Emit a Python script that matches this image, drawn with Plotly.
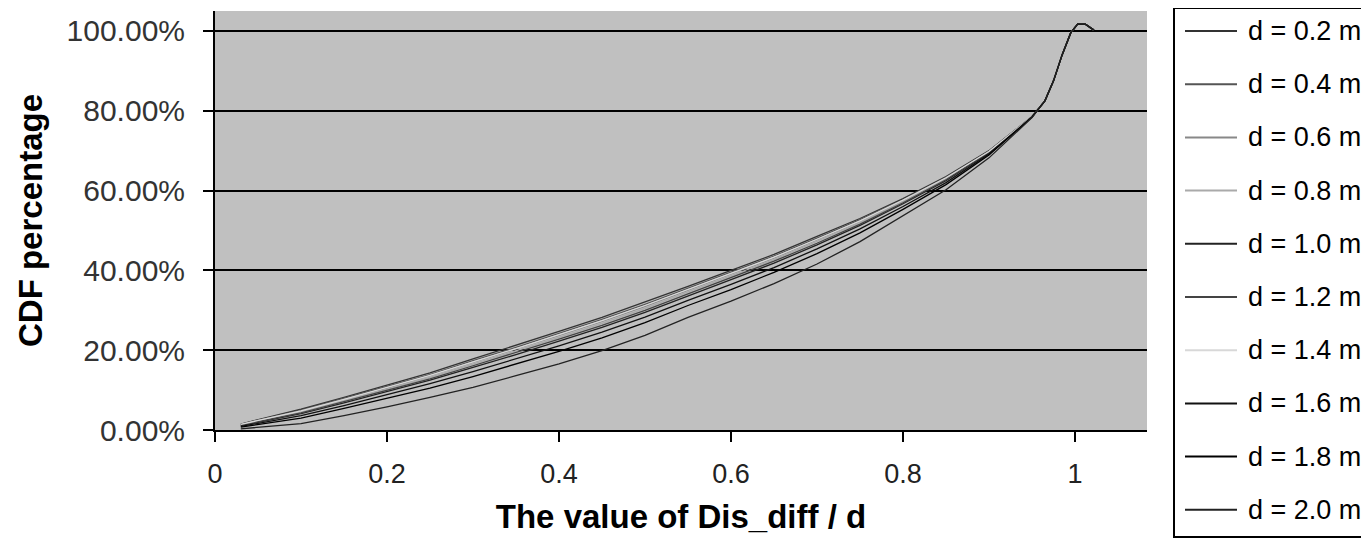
import plotly.graph_objects as go

# ---- data ----
x_vals = [0.03, 0.05, 0.1, 0.15, 0.2, 0.25, 0.3, 0.35, 0.4, 0.45, 0.5, 0.55, 0.6,
          0.65, 0.7, 0.75, 0.8, 0.85, 0.9, 0.95, 0.965, 0.975, 0.985, 0.995,
          1.003, 1.012, 1.022]

tail = [82.5, 87.5, 94.0, 99.5, 101.7, 101.7, 100.2]

cdf_d02 = [1.5, 2.6, 5.2, 8.2, 11.2, 14.3, 17.8, 21.2, 24.7, 28.2, 32.0, 36.0, 40.0,
           44.0, 48.5, 53.0, 58.0, 63.5, 70.0, 78.5] + tail
cdf_d04 = [1.4, 2.5, 5.0, 7.9, 10.9, 13.9, 17.4, 20.7, 24.2, 27.7, 31.5, 35.5, 39.5,
           43.6, 48.1, 52.7, 57.7, 63.3, 69.9, 78.5] + tail
cdf_d06 = [1.3, 2.4, 4.8, 7.6, 10.5, 13.6, 16.9, 20.3, 23.7, 27.2, 31.0, 35.1, 39.1,
           43.1, 47.7, 52.3, 57.5, 63.1, 69.8, 78.5] + tail
cdf_d08 = [1.3, 2.3, 4.6, 7.4, 10.2, 13.2, 16.5, 19.8, 23.2, 26.7, 30.5, 34.6, 38.6,
           42.7, 47.3, 52.0, 57.2, 62.9, 69.7, 78.5] + tail
cdf_d10 = [1.1, 2.0, 4.1, 6.8, 9.6, 12.5, 15.7, 18.9, 22.3, 25.7, 29.5, 33.7, 37.7,
           41.8, 46.4, 51.3, 56.7, 62.5, 69.5, 78.5] + tail
cdf_d12 = [1.2, 2.1, 4.3, 7.1, 9.9, 12.8, 16.1, 19.4, 22.8, 26.2, 30.0, 34.1, 38.2,
           42.3, 46.8, 51.6, 56.9, 62.7, 69.6, 78.5] + tail
cdf_d14 = [1.4, 2.4, 4.8, 7.7, 10.7, 13.7, 17.1, 20.4, 23.9, 27.4, 31.2, 35.2, 39.2,
           43.3, 47.8, 52.4, 57.6, 63.2, 69.8, 78.5] + tail
cdf_d16 = [0.9, 1.7, 3.6, 6.1, 8.8, 11.6, 14.6, 17.8, 21.1, 24.5, 28.3, 32.5, 36.5,
           40.7, 45.4, 50.4, 56.0, 62.0, 69.2, 78.5] + tail
cdf_d18 = [0.7, 1.4, 3.0, 5.4, 7.9, 10.5, 13.4, 16.5, 19.7, 23.1, 26.9, 31.2, 35.2,
           39.5, 44.2, 49.4, 55.3, 61.5, 68.9, 78.4] + tail
cdf_d20 = [0.3, 0.7, 1.6, 3.6, 5.8, 8.2, 10.7, 13.6, 16.6, 19.9, 23.7, 28.2, 32.3,
           36.7, 41.6, 47.2, 53.6, 60.2, 68.2, 78.3] + tail

series_names = ["d = 0.2 m", "d = 0.4 m", "d = 0.6 m", "d = 0.8 m", "d = 1.0 m",
                "d = 1.2 m", "d = 1.4 m", "d = 1.6 m", "d = 1.8 m", "d = 2.0 m"]
series_values = [cdf_d02, cdf_d04, cdf_d06, cdf_d08, cdf_d10,
                 cdf_d12, cdf_d14, cdf_d16, cdf_d18, cdf_d20]
series_colors = ["#333333", "#555555", "#888888", "#aaaaaa", "#222222",
                 "#444444", "#d8d8d8", "#111111", "#000000", "#222222"]

x_ticks = [0, 0.2, 0.4, 0.6, 0.8, 1]
x_tick_text = ["0", "0.2", "0.4", "0.6", "0.8", "1"]
y_ticks = [0, 0.2, 0.4, 0.6, 0.8, 1.0]

FONT = "Liberation Sans, Arial, sans-serif"

# page offset (browser body margin) and plot-area geometry in screen pixels
OFF = 8
W, H = 1369, 555
L = 215 - OFF
T = 11 - OFF
R = W - (1147 - OFF)
B = H - (430 - OFF)
PW, PH = W - L - R, H - T - B


def px_x(px):
    return (px - OFF - L) / PW


def px_y(py):
    return (H - B - (py - OFF)) / PH


fig = go.Figure()
for name, vals, col in zip(series_names, series_values, series_colors):
    fig.add_trace(go.Scatter(
        x=x_vals, y=[v / 100 for v in vals], mode="lines", name=name,
        line=dict(color=col, width=1.3), showlegend=False,
    ))

# legend drawn as a boxed list (matches the reference's clipped legend box)
shapes = [dict(type="rect", xref="paper", yref="paper",
               x0=px_x(1174), x1=px_x(1395), y0=px_y(537), y1=px_y(8),
               line=dict(color="black", width=2), fillcolor="white", layer="above")]
annotations = []
for i, (name, col) in enumerate(zip(series_names, series_colors)):
    cy = 31 + 53.2 * i
    shapes.append(dict(type="line", xref="paper", yref="paper",
                       x0=px_x(1185), x1=px_x(1237), y0=px_y(cy), y1=px_y(cy),
                       line=dict(color=col, width=2), layer="above"))
    annotations.append(dict(xref="paper", yref="paper", x=px_x(1246), y=px_y(cy),
                            xanchor="left", yanchor="middle", showarrow=False,
                            text=name, font=dict(family=FONT, size=27, color="black")))

fig.update_layout(
    width=W, height=H,
    margin=dict(l=L, r=R, t=T, b=B, autoexpand=False),
    paper_bgcolor="white",
    plot_bgcolor="#c0c0c0",
    font=dict(family=FONT, color="#000000"),
    showlegend=False,
    shapes=shapes,
    annotations=annotations,
    xaxis=dict(
        range=[0, 1.0837], tickvals=x_ticks, ticktext=x_tick_text,
        showgrid=False, zeroline=False,
        showline=True, linecolor="black", linewidth=2,
        ticks="outside", ticklen=10, tickwidth=2, tickcolor="black",
        tickfont=dict(family=FONT, size=27, color="#222222"),
        ticklabelstandoff=9,
        title=dict(text="<b>The value of Dis_diff / d</b>",
                   font=dict(family=FONT, size=33, color="black"), standoff=16),
    ),
    yaxis=dict(
        range=[0, 1.05], tickvals=y_ticks, tickformat=".2%",
        showgrid=True, gridcolor="black", gridwidth=2,
        zeroline=False,
        showline=True, linecolor="black", linewidth=2,
        ticks="outside", ticklen=10, tickwidth=2, tickcolor="black",
        tickfont=dict(family=FONT, size=30, color="#333333"),
        ticklabelstandoff=12,
        title=dict(text="<b>CDF percentage</b>",
                   font=dict(family=FONT, size=33, color="black"), standoff=14),
    ),
)

fig.write_html("out.html")
